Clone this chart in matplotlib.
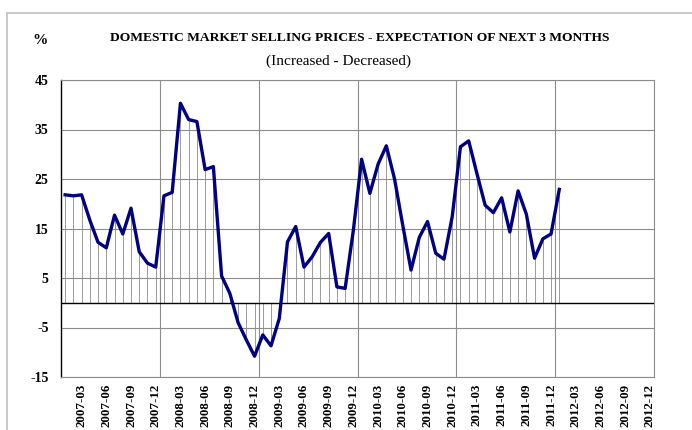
import matplotlib.pyplot as plt
import matplotlib.patches as mpatches
import numpy as np

plt.rcParams['font.family'] = ['Liberation Serif', 'DejaVu Serif']

# Data: monthly balance (increased - decreased), 2007-01 .. 2012-01
values = [21.8, 21.6, 21.8, 16.7, 12.2, 11.1, 17.7, 13.9, 19.1, 10.3, 8.0, 7.2,
          21.6, 22.3, 40.3, 37.0, 36.6, 26.9, 27.5, 5.4, 1.9, -4.0, -7.5, -10.8,
          -6.5, -8.7, -3.2, 12.3, 15.4, 7.2, 9.3, 12.2, 14.0, 3.2, 2.9, 14.7,
          29.0, 22.1, 28.0, 31.7, 25.0, 15.6, 6.6, 13.2, 16.4, 10.0, 8.8, 17.4,
          31.5, 32.7, 26.1, 19.7, 18.2, 21.2, 14.3, 22.6, 17.9, 9.0, 12.9, 13.9,
          22.9]
years = [2007, 2008, 2009, 2010, 2011, 2012]
months = ['03', '06', '09', '12']
tick_labels = [f'{y}-{m}' for y in years for m in months]
y_ticks = [45, 35, 25, 15, 5, -5, -15]

n_cat = 72
x = np.arange(len(values))

fig = plt.figure(figsize=(6.92, 4.30), dpi=100)
ax = fig.add_axes([61 / 692, 1 - 377 / 430, (654 - 61) / 692, (377 - 80) / 430])

# outer frame of the chart
fig.patches.append(mpatches.Rectangle((7 / 692, -0.1), 1.0, 1 - 13 / 430 + 0.1,
                                      transform=fig.transFigure, fill=False,
                                      edgecolor='#c0c0c0', linewidth=1.2))

ax.set_xlim(-0.5, n_cat - 0.5)
ax.set_ylim(-15, 45)

for yv in y_ticks:
    ax.axhline(yv, color='#8c8c8c', linewidth=0.8, zorder=1)
for k in range(1, 6):
    ax.axvline(12 * k - 0.5, color='#8c8c8c', linewidth=0.8, zorder=1)

ax.vlines(x, 0, values, color='#8a8a8a', linewidth=0.6, zorder=2)
ax.axhline(0, color='black', linewidth=1.0, zorder=3)
ax.plot(x, values, color='#000080', linewidth=2.4, zorder=4)

ax.set_yticks(y_ticks)
ax.set_yticklabels([str(v) for v in y_ticks], fontsize=10, fontweight='bold')
ax.set_xticks([i for i in range(2, n_cat, 3)])
ax.set_xticklabels(tick_labels, rotation=90, fontsize=9.4, fontweight='bold')
ax.tick_params(axis='y', length=0, pad=9)
ax.tick_params(axis='x', length=0, pad=5)

for side in ['top', 'right', 'bottom']:
    ax.spines[side].set_color('#8c8c8c')
    ax.spines[side].set_linewidth(0.8)
ax.spines['left'].set_color('black')
ax.spines['left'].set_linewidth(1.0)

fig.text(360 / 692, 1 - 38 / 430, 'DOMESTIC MARKET SELLING PRICES - EXPECTATION OF NEXT 3 MONTHS',
         ha='center', va='center', fontsize=9.7, fontweight='bold')
fig.text(339 / 692, 1 - 61 / 430, '(Increased - Decreased)',
         ha='center', va='center', fontsize=11)
fig.text(40 / 692, 1 - 40 / 430, '%', ha='center', va='center',
         fontsize=11, fontweight='bold')

fig.savefig('out.png', dpi=100)
